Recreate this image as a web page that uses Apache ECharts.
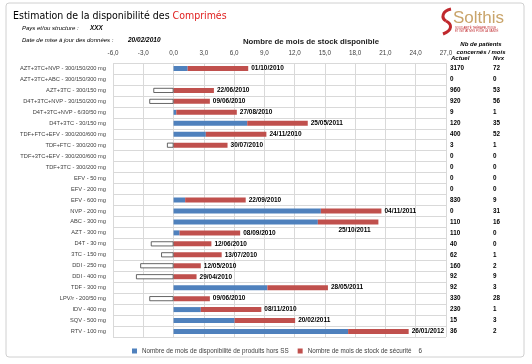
<!DOCTYPE html>
<html>
<head>
<meta charset="utf-8">
<script src="https://cdn.jsdelivr.net/npm/echarts@6/dist/echarts.min.js"></script>
<style>html,body{margin:0;padding:0;background:#fff}#c{width:532px;height:364px}</style>
</head>
<body>
<div id="c"></div>
<script>
const categories = [
  "AZT+3TC+NVP - 300/150/200 mg","AZT+3TC+ABC - 300/150/300 mg","AZT+3TC - 300/150 mg",
  "D4T+3TC+NVP - 30/150/200 mg","D4T+3TC+NVP - 6/30/50 mg","D4T+3TC - 30/150 mg",
  "TDF+FTC+EFV - 300/200/600 mg","TDF+FTC - 300/200 mg","TDF+3TC+EFV - 300/200/600 mg",
  "TDF+3TC - 300/200 mg","EFV - 50 mg","EFV - 200 mg","EFV - 600 mg","NVP - 200 mg",
  "ABC - 300 mg","AZT - 300 mg","D4T - 30 mg","3TC - 150 mg","DDI - 250 mg","DDI - 400 mg",
  "TDF - 300 mg","LPV/r - 200/50 mg","IDV - 400 mg","SQV - 500 mg","RTV - 100 mg"
];
const horsSS = [1.4,0,0,0,0.27,7.3,3.2,0,0,0,0,0,1.15,14.6,14.3,0.6,0,0,0,0,9.3,0,2.7,6.05,17.3];
const stockSecurite = [6,0,4.0,3.6,6,6,6,5.35,0,0,0,0,6,6,6,6,3.75,4.77,2.7,2.28,6,3.6,6,6,6];
const deficit = ['-','-',-2.0,-2.4,'-','-','-',-0.65,'-','-','-','-','-','-','-','-',-2.25,-1.23,-3.3,-3.72,'-',-2.4,'-','-','-'];
const dates = ["01/10/2010","","22/06/2010","09/06/2010","27/08/2010","25/05/2011","24/11/2010","30/07/2010","","","","","22/09/2010","04/11/2011","25/10/2011","08/09/2010","12/06/2010","13/07/2010","12/05/2010","29/04/2010","28/05/2011","09/06/2010","08/11/2010","20/02/2011","26/01/2012"];
const actuel = [3170,0,960,920,9,120,400,3,0,0,0,0,830,0,110,110,40,62,160,92,92,330,230,15,36];
const nvx = [72,0,53,56,1,35,52,1,0,0,0,0,9,31,16,0,0,1,2,9,3,28,1,3,2];
const stockSecuriteMois = 6;
const serieNames = ["Nombre de mois de disponibilité de produits hors SS","Nombre de mois de stock de sécurité"];

const FONT = "'Liberation Sans', Arial, sans-serif";
const NARROW = "'Liberation Sans Narrow', 'DejaVu Sans Condensed', 'Liberation Sans', sans-serif";
const chart = echarts.init(document.getElementById('c'));

const redData = stockSecurite.map((v, i) => {
  const item = { value: v };
  if (i === 14) item.label = { offset: [-43, 8] };
  return item;
});

const tableAxis = (arr, offset) => ({
  type: 'category', data: categories, inverse: true, position: 'right', offset: offset,
  axisLine: { show: false }, axisTick: { show: false }, splitLine: { show: false },
  axisLabel: { interval: 0, margin: 4, align: 'left', fontSize: 6.3, fontWeight: 'bold', color: '#000', fontFamily: FONT,
    formatter: (v, i) => String(arr[i]) }
});

const txt = (x, y, text, extra) => ({ type: 'text', x: x, y: y, style: Object.assign({ text: text, fill: '#000', fontFamily: FONT, align: 'left', verticalAlign: 'middle' }, extra) });

chart.setOption({
  animation: false,
  backgroundColor: '#fff',
  textStyle: { fontFamily: FONT },
  grid: { left: 113, right: 86, top: 63, bottom: 27 },
  xAxis: {
    type: 'value', position: 'top', min: -6, max: 27, interval: 3,
    axisLine: { show: false }, axisTick: { show: false },
    axisLabel: { fontSize: 6.3, color: '#404040', margin: 7, formatter: v => v.toFixed(1).replace('.', ',') },
    splitLine: { lineStyle: { color: '#d9d9d9', width: 1 } }
  },
  yAxis: [
    {
      type: 'category', data: categories, inverse: true,
      axisLine: { show: false }, axisTick: { show: false },
      axisLabel: { interval: 0, fontSize: 5.7, color: '#404040', margin: 7, fontFamily: FONT },
      splitLine: { show: true, interval: 0, lineStyle: { color: '#d9d9d9', width: 1 } }
    },
    tableAxis(actuel, 0),
    tableAxis(nvx, 43)
  ],
  legend: {
    data: serieNames, left: 127, top: 343, icon: 'rect', itemWidth: 5, itemHeight: 5, itemGap: 9,
    textStyle: { fontSize: 6.3, color: '#404040', fontFamily: FONT },
    formatter: n => n === serieNames[1] ? n + '    ' + stockSecuriteMois : n
  },
  series: [
    { name: serieNames[0], type: 'bar', stack: 's', data: horsSS, barWidth: 5, itemStyle: { color: '#4f81bd' } },
    { name: serieNames[1], type: 'bar', stack: 's', data: redData, barWidth: 5, itemStyle: { color: '#c0504d' },
      label: { show: true, position: 'right', distance: 3, fontSize: 6.5, fontWeight: 'bold', color: '#000',
        formatter: p => dates[p.dataIndex] } },
    { name: 'Déficit', type: 'bar', stack: 's', data: deficit, barWidth: 5,
      itemStyle: { color: '#fff', borderColor: '#404040', borderWidth: 0.8 } }
  ],
  graphic: [
    { type: 'rect', shape: { x: 6, y: 3, width: 518, height: 354, r: 3 }, style: { fill: 'none', stroke: '#d0d0d0', lineWidth: 1 }, silent: true },
    { type: 'text', x: 13, y: 16, style: {
      text: '{a|Estimation de la disponibilité des }{b|Comprimés}', verticalAlign: 'middle',
      rich: { a: { fontSize: 10.5, fill: '#000', fontFamily: NARROW }, b: { fontSize: 10.5, fill: '#e02020', fontFamily: NARROW } } } },
    txt(22, 28, 'Pays et/ou structure :', { fontSize: 6, fontStyle: 'italic' }),
    txt(90, 28, 'XXX', { fontSize: 6.3, fontStyle: 'italic', fontWeight: 'bold' }),
    txt(22, 40, 'Date de mise à jour des données :', { fontSize: 6, fontStyle: 'italic' }),
    txt(128, 40, '20/02/2010', { fontSize: 6.5, fontStyle: 'italic', fontWeight: 'bold' }),
    txt(311, 42, 'Nombre de mois de stock disponible', { fontSize: 7.8, fontWeight: 'bold', fill: '#222', align: 'center' }),
    txt(481, 44, 'Nb de patients', { fontSize: 6, fontStyle: 'italic', fontWeight: 'bold', align: 'center' }),
    txt(481, 52, 'concernés / mois', { fontSize: 6, fontStyle: 'italic', fontWeight: 'bold', align: 'center' }),
    txt(451, 58.5, 'Actuel', { fontSize: 6, fontStyle: 'italic', fontWeight: 'bold' }),
    txt(493, 58.5, 'Nvx', { fontSize: 6, fontStyle: 'italic', fontWeight: 'bold' }),
    { type: 'bezierCurve', shape: { x1: 451, y1: 9, cpx1: 442, cpy1: 11, cpx2: 441, cpy2: 18, x2: 446, y2: 21 }, style: { fill: 'none', stroke: '#c0282d', lineWidth: 3 } },
    { type: 'bezierCurve', shape: { x1: 446, y1: 21, cpx1: 452, cpy1: 24, cpx2: 453, cpy2: 30, x2: 443, y2: 34 }, style: { fill: 'none', stroke: '#c0282d', lineWidth: 3 } },
    txt(453, 18, 'Solthis', { fontSize: 17, fill: '#c9a46a' }),
    txt(455, 29.5, 'SOLIDARITÉ THÉRAPEUTIQUE\nET INITIATIVES POUR LA SANTÉ', { fontSize: 2.8, lineHeight: 3.2, fill: '#c0282d' })
  ]
});
</script>
</body>
</html>
